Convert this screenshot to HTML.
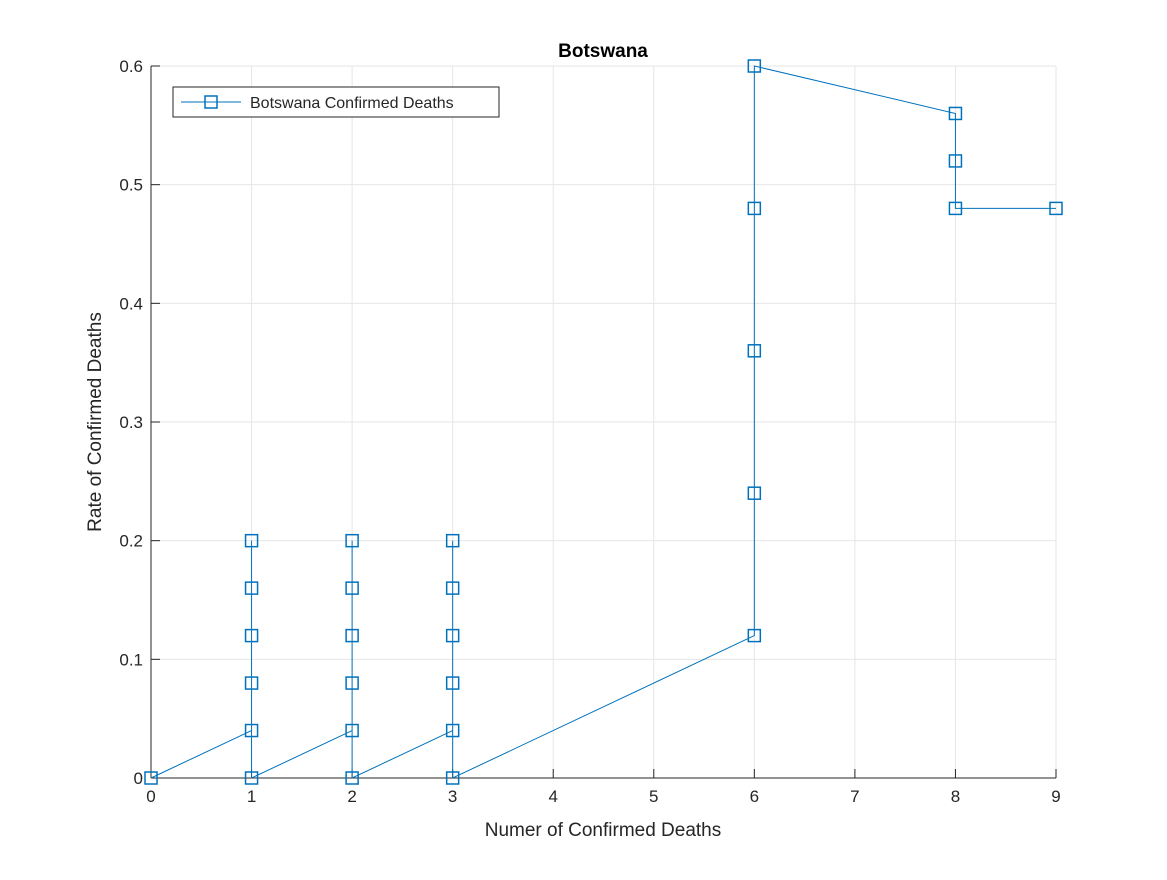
<!DOCTYPE html>
<html><head><meta charset="utf-8"><style>
body{margin:0;background:#fff;}
svg text{font-family:"Liberation Sans",sans-serif;fill:#262626;}
</style></head><body>
<svg id="chart" width="1167" height="875" xmlns="http://www.w3.org/2000/svg">
<rect width="1167" height="875" fill="#fff"/>
<g id="grid"></g>
<g id="axes"></g>
<g id="series"></g>
<text x="603" y="57" font-size="19" font-weight="bold" text-anchor="middle" style="fill:#000">Botswana</text>
<text x="603" y="836" font-size="19" text-anchor="middle">Numer of Confirmed Deaths</text>
<text transform="translate(101,422) rotate(-90)" font-size="19" text-anchor="middle">Rate of Confirmed Deaths</text>
<g>
<rect x="173" y="87" width="326" height="30" fill="#fff" stroke="#262626" stroke-width="1"/>
<line x1="181" y1="102" x2="241" y2="102" stroke="#0072BD" stroke-width="1"/>
<rect x="205" y="96" width="12" height="12" fill="none" stroke="#0072BD" stroke-width="1.5"/>
<text x="250" y="108" font-size="16">Botswana Confirmed Deaths</text>
</g>
</svg>
<script>
const xTicks=[0,1,2,3,4,5,6,7,8,9];
const yTicks=[0,0.1,0.2,0.3,0.4,0.5,0.6];
const yTickLabels=["0","0.1","0.2","0.3","0.4","0.5","0.6"];
const xValues=[0,1,1,1,1,1,1,2,2,2,2,2,2,3,3,3,3,3,3,6,6,6,6,6,8,8,8,9];
const yValues=[0,0.04,0.08,0.12,0.16,0.2,0,0.04,0.08,0.12,0.16,0.2,0,0.04,0.08,0.12,0.16,0.2,0,0.12,0.24,0.36,0.48,0.6,0.56,0.52,0.48,0.48];
const L=151,R=1056,T=66,B=778;
const sx=v=>L+(v-0)/(9-0)*(R-L);
const sy=v=>B-(v-0)/(0.6-0)*(B-T);
const NS="http://www.w3.org/2000/svg";
function mk(tag,attrs,parent){const e=document.createElementNS(NS,tag);for(const k in attrs)e.setAttribute(k,attrs[k]);document.getElementById(parent).appendChild(e);return e;}
xTicks.forEach(v=>{
 const g=mk('line',{x1:sx(v),x2:sx(v),y1:T,y2:B,stroke:'#e6e6e6','stroke-width':1},'grid');
 
 
 const t=mk('line',{x1:sx(v),x2:sx(v),y1:B,y2:B-9,stroke:'#262626','stroke-width':1},'axes');
 
 
 const l=mk('text',{x:sx(v),y:B+24,'font-size':17,'text-anchor':'middle'},'axes');
 l.textContent=String(v);
 
 
});
yTicks.forEach((v,i)=>{
 const g=mk('line',{x1:L,x2:R,y1:sy(v),y2:sy(v),stroke:'#e6e6e6','stroke-width':1},'grid');
 
 
 const t=mk('line',{x1:L,x2:L+9,y1:sy(v),y2:sy(v),stroke:'#262626','stroke-width':1},'axes');
 
 
 const l=mk('text',{x:L-8,y:sy(v)+6,'font-size':17,'text-anchor':'end'},'axes');
 l.textContent=yTickLabels[i];
 
 
});
const xa=mk('line',{x1:L,x2:R,y1:B,y2:B,stroke:'#262626','stroke-width':1},'axes');


const ya=mk('line',{x1:L,x2:L,y1:T,y2:B,stroke:'#262626','stroke-width':1},'axes');


const pts=xValues.map((x,i)=>sx(x)+','+sy(yValues[i])).join(' ');
const pl=mk('polyline',{points:pts,fill:'none',stroke:'#0072BD','stroke-width':1},'series');


xValues.forEach((x,i)=>{
 const m=mk('rect',{x:sx(x)-6,y:sy(yValues[i])-6,width:12,height:12,fill:'none',stroke:'#0072BD','stroke-width':1.5},'series');
 
 
});
</script>
</body></html>
